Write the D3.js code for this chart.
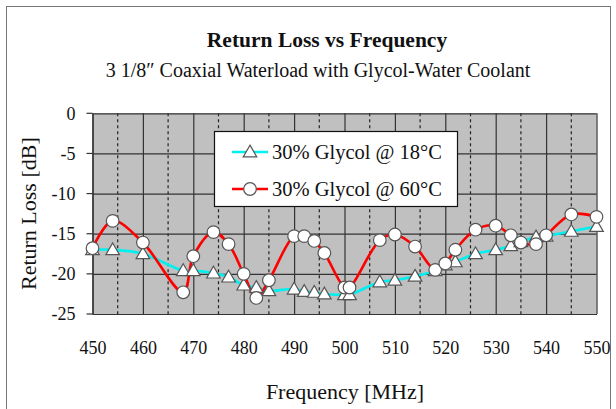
<!DOCTYPE html>
<html><head><meta charset="utf-8">
<script src="https://cdn.jsdelivr.net/npm/d3@7"></script>
<style>body{margin:0;background:#fff}svg{display:block}</style>
</head><body>
<svg id="c" width="616" height="409"></svg>
<script>
const freqs = [450, 454, 460, 468, 470, 474, 477, 480, 482.5, 485, 490, 492, 494, 496, 500, 501, 507, 510, 514, 518, 520, 522, 526, 530, 533, 535, 538, 540, 545, 550];
const glycol18 = [-17.0, -17.0, -17.5, -19.6, -19.6, -19.9, -20.4, -21.4, -21.7, -22.1, -21.9, -22.2, -22.3, -22.5, -22.6, -22.6, -21.0, -20.8, -20.3, -19.6, -18.9, -18.5, -17.5, -17.0, -16.5, -16.0, -15.4, -15.3, -14.7, -14.1];
const glycol60 = [-16.8, -13.4, -16.1, -22.3, -17.8, -14.8, -16.3, -20.0, -23.0, -20.8, -15.3, -15.3, -15.9, -17.4, -21.7, -21.7, -15.8, -15.1, -16.6, -19.5, -18.7, -17.0, -14.5, -14.0, -15.2, -16.1, -16.3, -15.2, -12.6, -12.9];
const xTicks = [450, 460, 470, 480, 490, 500, 510, 520, 530, 540, 550];
const yTicks = [0, -5, -10, -15, -20, -25];
const seriesNames = ["30% Glycol @ 18°C", "30% Glycol @ 60°C"];

const svg = d3.select("#c");
const font = "'Liberation Serif','Times New Roman',serif";
const L = 92.5, R = 596.5, T = 113.3, B = 314;
const x = d3.scaleLinear().domain([450, 550]).range([L, R]);
const y = d3.scaleLinear().domain([-25, 0]).range([B, T]);

// frame
svg.append("rect").attr("x", 6.5).attr("y", 6.5).attr("width", 604).attr("height", 420)
  .attr("fill", "#fff").attr("stroke", "#777").attr("stroke-width", 1);

// titles
svg.append("text").attr("x", 327).attr("y", 47).attr("text-anchor", "middle")
  .attr("font-family", font).attr("font-weight", "bold").attr("font-size", 21.5).attr("fill", "#111").text("Return Loss vs Frequency");
svg.append("text").attr("x", 318).attr("y", 77).attr("text-anchor", "middle")
  .attr("font-family", font).attr("font-size", 20).attr("fill", "#111").text("3 1/8\u2033 Coaxial Waterload with Glycol-Water Coolant");

// plot bg
svg.append("rect").attr("x", L).attr("y", T).attr("width", R - L).attr("height", B - T).attr("fill", "#c0c0c0");

// dashed minor verticals
const minor = d3.range(455, 550, 10);
svg.append("g").selectAll("line").data(minor).join("line")
  .attr("x1", d => x(d)).attr("x2", d => x(d)).attr("y1", T).attr("y2", B)
  .attr("stroke", "#222").attr("stroke-width", 1.2).attr("stroke-dasharray", "3,3");

// x axis with gridlines
const xg = svg.append("g").attr("transform", `translate(0,${B})`)
  .call(d3.axisBottom(x).tickValues(xTicks).tickSize(-(B - T)).tickSizeOuter(0).tickPadding(27).tickFormat(d3.format("d")));
xg.select(".domain").attr("stroke", "#222");
xg.selectAll(".tick line").attr("stroke", "#333").attr("stroke-width", 1.2);
xg.selectAll("text").attr("font-family", font).attr("font-size", 18).attr("fill", "#111");

// y axis with gridlines
const yg = svg.append("g").attr("transform", `translate(${L},0)`)
  .call(d3.axisLeft(y).tickValues(yTicks).tickSizeInner(-(R - L)).tickSizeOuter(0).tickPadding(17).tickFormat(d => d === 0 ? "0" : "-" + Math.abs(d)));
yg.select(".domain").attr("stroke", "#222");
yg.selectAll(".tick line").attr("stroke", "#333").attr("stroke-width", 1.2);
yg.selectAll("text").attr("font-family", font).attr("font-size", 18).attr("fill", "#111");
// outer tick stubs
svg.append("g").selectAll("line").data(yTicks).join("line")
  .attr("x1", L - 6).attr("x2", L).attr("y1", d => y(d)).attr("y2", d => y(d))
  .attr("stroke", "#333").attr("stroke-width", 1.2);

// axis titles
svg.append("text").attr("x", 345).attr("y", 399).attr("text-anchor", "middle")
  .attr("font-family", font).attr("font-size", 22).attr("fill", "#111").text("Frequency [MHz]");
svg.append("text").attr("transform", `translate(36,${(T + B) / 2}) rotate(-90)`).attr("text-anchor", "middle")
  .attr("font-family", font).attr("font-size", 22).attr("fill", "#111").text("Return Loss [dB]");

const data18 = freqs.map((f, i) => [f, glycol18[i]]);
const data60 = freqs.map((f, i) => [f, glycol60[i]]);
const line = d3.line().x(d => x(d[0])).y(d => y(d[1])).curve(d3.curveCatmullRom.alpha(0.5));

svg.append("path").datum(data18).attr("d", line).attr("fill", "none").attr("stroke", "#00f0f0").attr("stroke-width", 2.6);
svg.append("path").datum(data60).attr("d", line).attr("fill", "none").attr("stroke", "#ff0000").attr("stroke-width", 2.6);

const tri = d3.symbol().type(d3.symbolTriangle).size(80);
const circ = d3.symbol().type(d3.symbolCircle).size(125);
svg.append("g").selectAll("path").data(data18).join("path")
  .attr("transform", d => `translate(${x(d[0])},${y(d[1]) + 1})`).attr("d", tri)
  .attr("fill", "#fff").attr("stroke", "#555").attr("stroke-width", 1.2);
svg.append("g").selectAll("path").data(data60).join("path")
  .attr("transform", d => `translate(${x(d[0])},${y(d[1])})`).attr("d", circ)
  .attr("fill", "#fff").attr("stroke", "#555").attr("stroke-width", 1.2);

// legend
const lg = svg.append("g");
lg.append("rect").attr("x", 214.5).attr("y", 131.5).attr("width", 243).attr("height", 75)
  .attr("fill", "#fff").attr("stroke", "#111").attr("stroke-width", 1.2);
const rows = [{y: 152, c: "#00f0f0", s: tri, n: seriesNames[0]}, {y: 189, c: "#ff0000", s: circ, n: seriesNames[1]}];
rows.forEach(r => {
  lg.append("line").attr("x1", 232).attr("x2", 268).attr("y1", r.y).attr("y2", r.y).attr("stroke", r.c).attr("stroke-width", 2.6);
  lg.append("path").attr("transform", `translate(250,${r.y + (r.s === tri ? 1 : 0)})`).attr("d", r.s)
    .attr("fill", "#fff").attr("stroke", "#555").attr("stroke-width", 1.2);
  lg.append("text").attr("x", 272).attr("y", r.y + 7).attr("font-family", font).attr("font-size", 20.5).attr("fill", "#111").text(r.n);
});
</script>
</body></html>
